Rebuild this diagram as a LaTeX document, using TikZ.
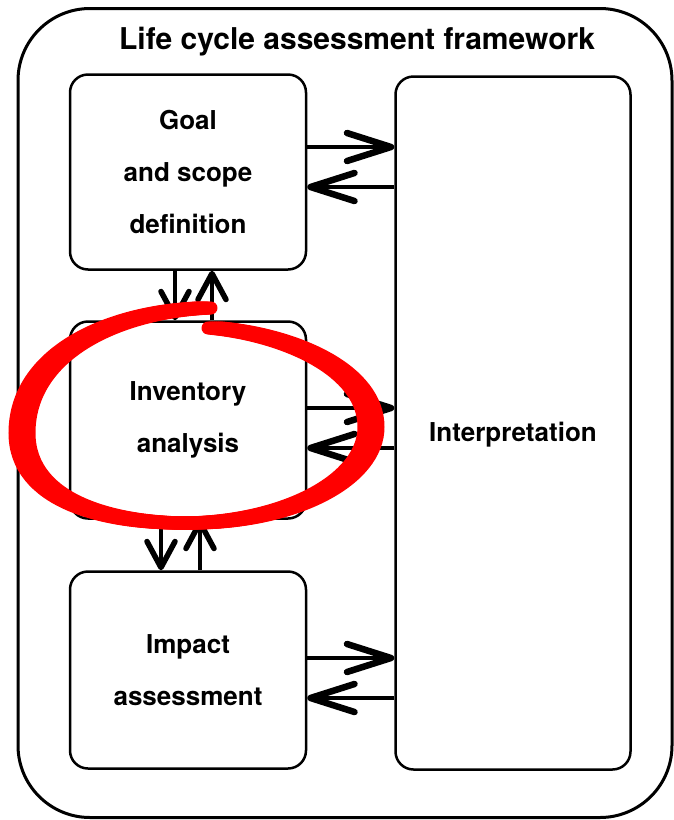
\documentclass[tikz,border=0pt]{standalone}
\usepackage{fontspec}
\setmainfont{TeX Gyre Heros}
\usetikzlibrary{arrows.meta}

\tikzset{
  stage/.style={draw,line width=2.5pt,rounded corners=18pt,minimum width=236pt,
    align=center,font=\fontsize{26}{52}\selectfont\bfseries},
  flow/.style={line width=4pt,-{Straight Barb[length=44pt,width=28pt,line width=6.5pt,round]}},
  vflow/.style={line width=3.5pt,-{Straight Barb[length=26pt,width=28pt,line width=5.5pt,round]}},
}

\begin{document}
\begin{tikzpicture}[x=1pt,y=-1pt]
\useasboundingbox (0,0) rectangle (674,820);
\node[draw,line width=3pt,rounded corners=72pt,minimum width=654pt,minimum height=809pt] (frame) at (345,413) {};
\node[font=\fontsize{30}{36}\selectfont\bfseries] (title) at (357,42) {Life cycle assessment framework};

\node[stage,minimum height=195pt] (goal) at (188,172) {Goal\\and scope\\definition};
\node[stage,minimum height=197pt] (inv) at (188,420) {Inventory\\analysis};
\node[stage,minimum height=197pt] (imp) at (188,670) {Impact\\assessment};
\node[stage,minimum width=235pt,minimum height=693pt,text height=43pt,text depth=7pt] (interp) at (513,423) {Interpretation};

% to and from the interpretation phase
\foreach \phase/\there/\back in {goal/147/187,inv/408/448,imp/658/698}
{
  \draw[flow] (\phase.east |- 0,\there) -- (interp.west |- 0,\there);
  \draw[flow] (interp.west |- 0,\back) -- (\phase.east |- 0,\back);
}
% between the phases
\draw[vflow] (goal.south -| 175,0) -- (inv.north -| 175,0);
\draw[vflow] (inv.north -| 212,0) -- (goal.south -| 212,0);
\draw[vflow] (inv.south -| 161,0) -- (imp.north -| 161,0);
\draw[vflow] (imp.north -| 200,0) -- (inv.south -| 200,0);

% red marker loop round the inventory analysis
\foreach \dx in {-7,-5,...,7}
  \draw[red,line width=13pt,line cap=round,xshift=\dx] (204,308) .. controls (110,312) and (22,355) .. (22,433)
    .. controls (22,502) and (110,524) .. (190,523) .. controls (290,522) and (371,480) .. (371,427)
    .. controls (371,370) and (290,335) .. (215,328);
\end{tikzpicture}
\end{document}
